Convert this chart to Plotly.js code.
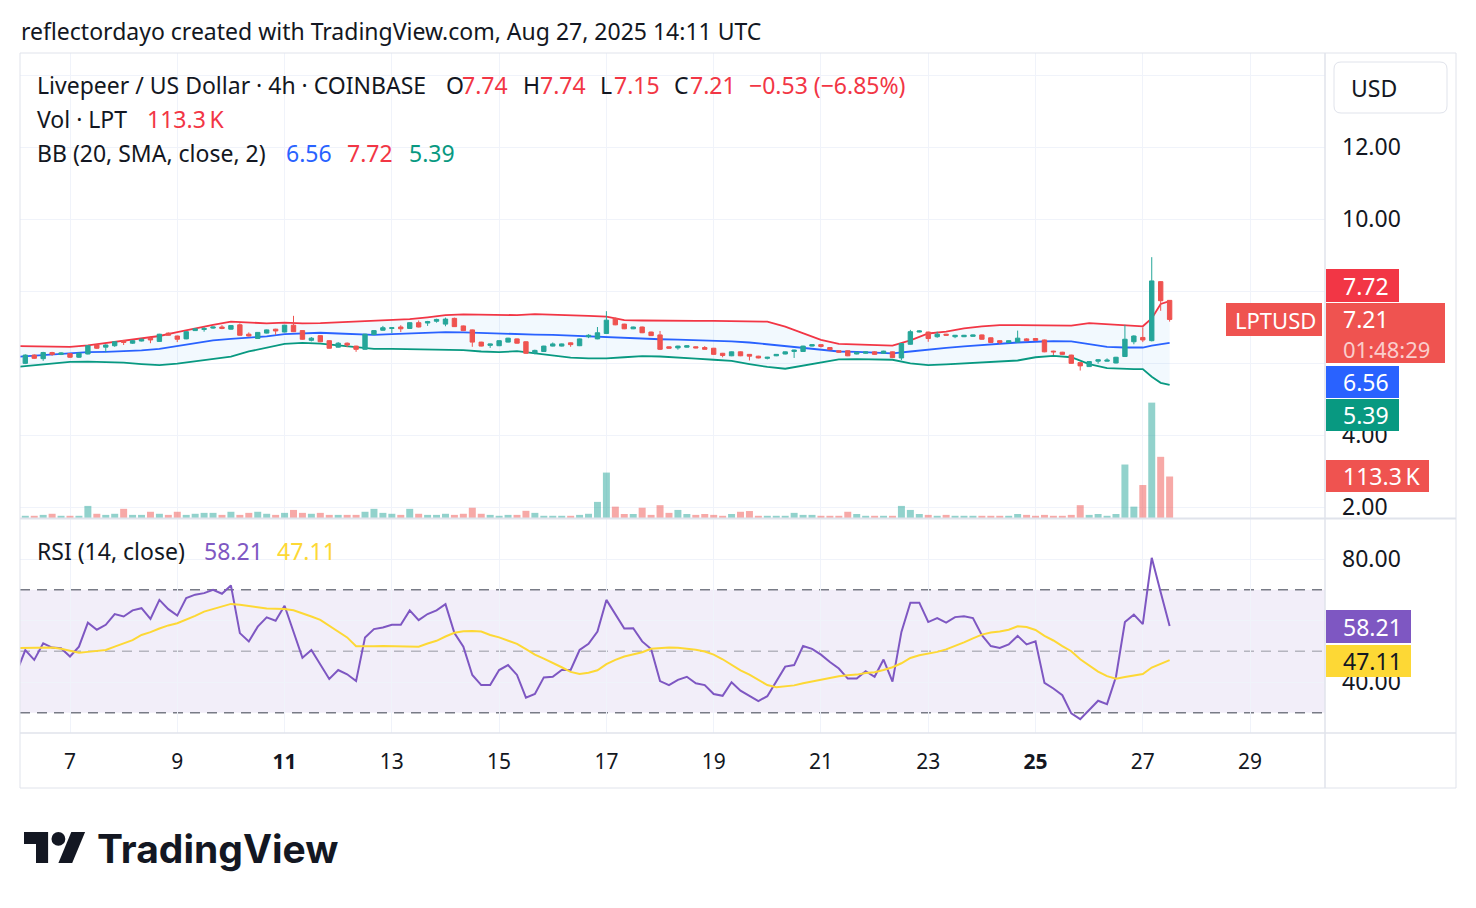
<!DOCTYPE html>
<html><head><meta charset="utf-8">
<script src="https://cdn.plot.ly/plotly-3.0.1.min.js"></script>
<style>html,body{margin:0;padding:0;background:#fff;}#chart{width:1476px;height:908px;}</style>
</head><body><div id="chart"></div>
<script>
// ---- data (4h candles, LPTUSD, Coinbase) starting 2025-08-06 00:00 UTC ----
const openP = [6.08,5.99,6.22,6.12,6.29,6.24,6.26,6.16,6.25,6.50, 6.44,6.48,6.62,6.55,6.61,6.69,6.60,6.83,6.75,6.67, 6.90,6.93,6.97,7.00,6.94,7.06,6.80,6.68,6.83,6.94, 6.86,7.05,6.90,6.63,6.76,6.62,6.44,6.55,6.47,6.38, 6.79,6.91,6.96,7.00,6.96,7.12,7.11,7.16,7.08,7.24, 7.03,6.92,6.58,6.49,6.48,6.58,6.67,6.59,6.28,6.32, 6.47,6.47,6.56,6.48,6.73,6.67,6.82,7.24,7.08,6.95, 7.00,6.86,6.78,6.45,6.42,6.44,6.45,6.43,6.41,6.27, 6.20,6.31,6.24,6.19,6.13,6.20,6.25,6.32,6.32,6.47, 6.51,6.43,6.34,6.34,6.25,6.27,6.31,6.27,6.31,6.14, 6.52,6.86,6.86,6.73,6.80,6.73,6.73,6.74,6.78,6.70, 6.62,6.57,6.58,6.67,6.68,6.64,6.33,6.30,6.22,6.01, 5.90,6.05,6.05,6.00,6.18,6.59,6.71,6.62,8.26,7.74];
const highP = [6.12,6.24,6.24,6.31,6.31,6.30,6.27,6.29,6.50,6.51, 6.52,6.60,6.64,6.64,6.68,6.75,6.81,6.85,6.76,6.88, 6.96,7.00,7.01,7.05,7.05,7.10,6.85,6.86,6.93,6.95, 7.06,7.31,6.91,6.72,6.77,6.63,6.58,6.57,6.48,6.81, 6.91,7.03,6.99,7.05,7.13,7.18,7.17,7.23,7.26,7.26, 7.04,6.93,6.59,6.54,6.63,6.70,6.68,6.60,6.37,6.48, 6.57,6.54,6.57,6.68,6.80,7.00,7.44,7.26,7.09,7.01, 7.01,6.87,6.89,6.46,6.48,6.49,6.46,6.47,6.42,6.28, 6.32,6.32,6.25,6.20,6.17,6.25,6.32,6.37,6.48,6.52, 6.52,6.44,6.35,6.35,6.31,6.32,6.33,6.34,6.32,6.54, 6.92,6.91,6.87,6.87,6.81,6.78,6.78,6.79,6.79,6.71, 6.63,6.63,6.90,6.69,6.69,6.65,6.34,6.31,6.23,6.02, 6.05,6.10,6.13,6.17,7.06,6.77,6.99,8.94,8.27,7.74];
const lowP = [5.97,5.97,6.11,6.06,6.20,6.22,6.14,6.14,6.24,6.39, 6.30,6.45,6.50,6.53,6.60,6.55,6.59,6.76,6.58,6.66, 6.89,6.87,6.95,6.94,6.93,6.76,6.74,6.67,6.82,6.78, 6.85,6.86,6.65,6.60,6.58,6.40,6.43,6.44,6.31,6.37, 6.78,6.90,6.83,6.86,6.95,6.99,7.03,7.12,7.02,7.00, 6.89,6.45,6.46,6.42,6.47,6.57,6.54,6.25,6.24,6.31, 6.46,6.46,6.45,6.47,6.69,6.66,6.81,7.05,6.94,6.94, 6.83,6.75,6.36,6.40,6.37,6.43,6.41,6.37,6.23,6.16, 6.19,6.19,6.07,6.13,6.10,6.19,6.24,6.14,6.31,6.46, 6.43,6.36,6.29,6.19,6.24,6.26,6.23,6.26,6.14,6.08, 6.51,6.85,6.59,6.70,6.76,6.69,6.72,6.73,6.65,6.56, 6.52,6.56,6.57,6.61,6.62,6.30,6.22,6.23,5.98,5.79, 5.89,5.98,6.04,5.99,6.17,6.52,6.58,6.60,7.45,7.15];
const closeP = [5.99,6.22,6.13,6.29,6.24,6.28,6.16,6.27,6.48,6.41, 6.50,6.59,6.57,6.62,6.66,6.64,6.80,6.77,6.66,6.87, 6.95,6.96,7.00,6.96,7.04,6.77,6.75,6.85,6.92,6.89, 7.05,6.87,6.66,6.69,6.59,6.41,6.55,6.50,6.38,6.80, 6.90,6.98,6.98,6.95,7.12,7.00,7.15,7.21,7.22,7.01, 6.90,6.58,6.47,6.53,6.62,6.69,6.55,6.27,6.35,6.47, 6.53,6.53,6.51,6.67,6.77,6.84,7.19,7.06,6.95,7.00, 6.84,6.76,6.38,6.41,6.47,6.48,6.42,6.38,6.24,6.21, 6.31,6.20,6.19,6.14,6.16,6.24,6.31,6.36,6.47,6.51, 6.46,6.37,6.30,6.20,6.30,6.31,6.24,6.33,6.15,6.54, 6.87,6.89,6.68,6.80,6.77,6.77,6.77,6.78,6.66,6.57, 6.57,6.62,6.69,6.62,6.63,6.31,6.31,6.24,5.99,5.92, 6.04,6.09,6.08,6.16,6.66,6.75,6.64,8.28,7.73,7.21];
const volumeK = [17,6,6,8.5,11.5,6,6,6,33,11.5, 8.5,11.5,25,8.5,8.5,17,11.5,8.5,17,8.5, 11.5,14,14,8.5,17,8.5,14,17,11.5,8.5, 14,22,14,11.5,14,8.5,8.5,8.5,8.5,17, 25,14,11.5,8.5,25,11.5,8.5,8.5,11.5,8.5, 11.5,28,11.5,8.5,6,8.5,8.5,19.6,14,6, 6,6,6,8.5,11.5,44,124,31,11,11, 28,8.5,35,14,22,11,8.5,11,8.5,6, 11,17,19,6,6,6,6,14,8.5,8.5, 6,6,6,17,11,6,6,6,6,33, 22,11,8.5,6,8.5,6,6,6,6,6, 6,6,11,8.5,6,8.5,6,6,8.5,35, 8.5,11,6,11,146,31,90,315,167,113.3];
// Bollinger Bands (20, SMA, close, 2) read at these candle indices
const bbIdx = [0,2,4,6,8,10,12,14,16,18,20,22,24,26,28,30,32,34,36,38,40,42,44,46,48,50,52,54,56,58,60,62,64,66,68,70,72,74,76,78,80,82,84,86,88,90,92,94,96,98,100,102,104,106,108,110,112,114,116,118,120,122,124,125,126,127,128,129];
const bbUpper = [6.47,6.46,6.45,6.45,6.49,6.55,6.61,6.67,6.75,6.86, 6.97,7.06,7.15,7.13,7.10,7.12,7.10,7.11,7.13,7.16, 7.18,7.20,7.22,7.27,7.33,7.35,7.34,7.34,7.33,7.36, 7.35,7.33,7.31,7.29,7.19,7.18,7.17,7.17,7.17,7.17, 7.17,7.16,7.15,7.01,6.82,6.64,6.53,6.52,6.50,6.48, 6.63,6.82,6.87,6.96,7.02,7.05,7.05,7.04,7.03,7.04, 7.11,7.08,7.04,7.03,7.02,7.24,7.64,7.72];
const bbBasis = [6.17,6.20,6.25,6.27,6.30,6.31,6.32,6.35,6.39,6.47, 6.55,6.63,6.67,6.70,6.74,6.80,6.82,6.84,6.82,6.80, 6.78,6.80,6.82,6.83,6.86,6.85,6.83,6.82,6.80,6.79, 6.78,6.76,6.73,6.70,6.68,6.67,6.66,6.65,6.64,6.62, 6.60,6.57,6.52,6.46,6.40,6.35,6.32,6.31,6.29,6.27, 6.32,6.38,6.42,6.46,6.50,6.54,6.57,6.59,6.61,6.60, 6.52,6.45,6.43,6.43,6.43,6.48,6.53,6.56];
const bbLower = [5.89,5.94,5.99,6.03,6.04,6.03,6.01,5.97,5.94,5.98, 6.05,6.10,6.18,6.32,6.43,6.53,6.56,6.54,6.49,6.43, 6.39,6.39,6.38,6.38,6.38,6.36,6.32,6.30,6.33,6.27, 6.19,6.15,6.13,6.13,6.16,6.19,6.18,6.16,6.12,6.09, 6.06,5.97,5.89,5.84,5.92,6.01,6.10,6.11,6.11,6.09, 5.99,5.94,5.96,5.99,6.01,6.03,6.07,6.16,6.20,6.16, 5.97,5.86,5.83,5.83,5.83,5.62,5.45,5.39];
// RSI (14, close) and its moving average, per candle
const rsi = [43.0,50.4,47.2,52.6,51.2,51.0,48.3,51.5,59.3,57.0, 58.6,62.1,61.3,63.3,64.0,60.5,66.7,63.7,61.6,67.3, 68.4,68.9,70.0,68.7,71.4,55.9,53.2,58.0,61.0,59.9, 64.8,56.5,47.9,50.4,45.8,41.0,43.9,42.5,40.3,54.5, 57.2,57.7,58.6,58.6,63.3,60.1,62.1,63.3,65.3,55.9, 51.5,42.3,39.0,39.0,43.9,45.5,42.3,34.9,36.1,41.5, 41.7,43.9,43.9,50.4,52.4,56.4,66.7,62.1,57.4,57.5, 53.2,50.7,40.3,39.0,40.7,41.7,39.6,39.0,36.1,35.5, 39.9,37.2,35.4,33.8,35.4,40.1,45.0,45.5,51.7,50.8, 48.9,46.5,44.4,41.1,41.1,43.5,41.7,47.3,40.1,56.3, 65.8,65.8,59.5,60.8,59.3,61.1,61.4,60.8,55.2,51.7, 51.1,52.2,55.0,52.2,53.2,39.7,37.9,35.7,29.8,27.9, 30.9,33.9,32.8,41.7,59.5,61.9,58.8,80.4,69.2,58.21];
const rsiMA = [51.0,51.0,51.0,51.1,51.2,50.8,50.2,49.5,49.8,50.1, 50.4,51.5,52.6,53.6,55.3,56.2,57.4,58.4,59.1,60.2, 61.5,62.9,63.7,64.5,65.4,65.1,64.7,64.2,63.9,63.8, 63.7,63.3,62.4,61.3,60.2,58.3,56.2,54.5,51.6,51.5, 51.6,51.7,51.6,51.5,51.5,51.5,52.5,53.4,54.8,56.0, 56.5,56.6,56.4,55.3,54.5,53.4,52.4,50.7,48.9,47.6, 46.3,44.8,43.3,42.6,43.0,43.8,45.8,47.2,48.3,49.0, 49.7,50.8,51.1,51.2,51.1,50.9,50.5,49.9,48.9,47.4, 45.5,43.8,42.4,40.7,39.0,38.3,38.5,38.9,39.6,40.2, 40.8,41.5,41.9,42.2,42.4,42.9,43.2,43.9,44.8,46.1, 47.8,48.7,49.2,49.8,50.6,51.7,52.9,54.2,55.4,56.1, 56.4,57.0,58.1,57.9,56.9,55.0,53.5,51.7,50.0,47.4, 45.4,43.4,41.9,41.1,41.6,42.2,42.6,44.7,45.8,47.11];
const tickDays = [7,9,11,13,15,17,19,21,23,25,27,29];
const tickLabels = ['7','9','<b>11</b>','13','15','17','19','21','23','<b>25</b>','27','29'];
const priceTicks = [2,4,6,8,10,12,14];
const priceTickText = ['2.00','4.00','','','10.00','12.00',''];
const rsiTicks = [40,60,80];
const rsiTickText = ['40.00','','80.00'];

// ---- styling / geometry ----
const FONT = "'Noto Sans', sans-serif";
const FS = 23;
const TXT = '#131722', GRID = '#f0f3fa', FRAME = '#e0e3eb';
const UP = '#26a69a', DN = '#ef5350';
const L0 = 20, T0 = 53, PW = 1305, PH = 680;
const PX = x => (x - L0) / PW;
const PY = y => (T0 + PH - y) / PH;

const startMs = Date.UTC(2025, 7, 6, 0, 0, 0), stepMs = 4 * 3600 * 1000, dayMs = 86400000;
const fmt = ms => new Date(ms).toISOString().slice(0, 19).replace('T', ' ');
const times = openP.map((_, i) => fmt(startMs + i * stepMs));
const bbTimes = bbIdx.map(i => times[i]);
const tickTimes = tickDays.map(d => fmt(Date.UTC(2025, 7, d)));
const pxPerDay = 53.64, t7 = Date.UTC(2025, 7, 7);
const xRange = [fmt(t7 - (70 - 20) / pxPerDay * dayMs), fmt(t7 + (1325 - 70) / pxPerDay * dayMs)];
const pRange = [12 - (518 - 147) / 36, 12 + (147 - 53) / 36];
const rRange = [40 - (733 - 682) / 3.075, 80 + (559 - 519) / 3.075];
const volMax = 113.3 * 465 / 41.5;
const volColors = closeP.map((c, i) => c >= openP[i] ? 'rgba(38,166,154,0.5)' : 'rgba(239,83,80,0.5)');

const traces = [
  {type:'scatter', mode:'lines', x:bbTimes, y:bbLower, xaxis:'x', yaxis:'y', line:{color:'#089981', width:1.8}, hoverinfo:'skip'},
  {type:'scatter', mode:'lines', x:bbTimes, y:bbUpper, xaxis:'x', yaxis:'y', line:{color:'#f23645', width:1.8}, fill:'tonexty', fillcolor:'rgba(33,150,243,0.06)', hoverinfo:'skip'},
  {type:'scatter', mode:'lines', x:bbTimes, y:bbBasis, xaxis:'x', yaxis:'y', line:{color:'#2962ff', width:1.8}, hoverinfo:'skip'},
  {type:'bar', x:times, y:volumeK, xaxis:'x', yaxis:'y3', marker:{color:volColors, line:{width:0}}, hoverinfo:'skip'},
  {type:'candlestick', x:times, open:openP, high:highP, low:lowP, close:closeP, xaxis:'x', yaxis:'y4',
   increasing:{line:{color:UP, width:1}, fillcolor:UP}, decreasing:{line:{color:DN, width:1}, fillcolor:DN}, whiskerwidth:0, hoverinfo:'skip'},
  {type:'scatter', mode:'lines', x:times, y:rsi, xaxis:'x', yaxis:'y2', line:{color:'#7e57c2', width:2}, hoverinfo:'skip'},
  {type:'scatter', mode:'lines', x:times, y:rsiMA, xaxis:'x', yaxis:'y2', line:{color:'#fdd835', width:2}, hoverinfo:'skip'}
];

function txt(x, y, text, color, size, extra) {
  return Object.assign({xref:'paper', yref:'paper', x:PX(x), y:PY(y), xanchor:'left', yanchor:'middle', text:text,
    showarrow:false, borderpad:0, font:{family:FONT, size:size, color:color}}, extra || {});
}
function rect(x0, y0, x1, y1, fill, extra) {
  return Object.assign({type:'rect', xref:'paper', yref:'paper', x0:PX(x0), x1:PX(x1), y0:PY(y1), y1:PY(y0),
    fillcolor:fill, line:{width:0}, layer:'above'}, extra || {});
}
function seg(x0, y0, x1, y1, color, w) {
  return {type:'line', xref:'paper', yref:'paper', x0:PX(x0), x1:PX(x1), y0:PY(y0), y1:PY(y1), line:{color:color, width:w || 1}, layer:'above'};
}
function poly(pts, fill) {
  return {type:'path', xref:'paper', yref:'paper', path:'M' + pts.map(p => PX(p[0]) + ',' + PY(p[1])).join(' L') + ' Z', fillcolor:fill, line:{width:0}, layer:'above'};
}
function rrect(x0, y0, x1, y1, r) {
  const p = (x, y) => PX(x) + ',' + PY(y);
  return 'M' + p(x0 + r, y0) + ' L' + p(x1 - r, y0) + ' Q' + p(x1, y0) + ' ' + p(x1, y0 + r) + ' L' + p(x1, y1 - r) + ' Q' + p(x1, y1) + ' ' + p(x1 - r, y1) +
    ' L' + p(x0 + r, y1) + ' Q' + p(x0, y1) + ' ' + p(x0, y1 - r) + ' L' + p(x0, y0 + r) + ' Q' + p(x0, y0) + ' ' + p(x0 + r, y0) + ' Z';
}

const shapes = [
  {type:'rect', xref:'paper', yref:'y2', x0:0, x1:1, y0:30, y1:70, fillcolor:'rgba(126,87,194,0.1)', line:{width:0}, layer:'below'},
  {type:'line', xref:'paper', yref:'y2', x0:0, x1:1, y0:70, y1:70, line:{color:'#787b86', width:1.5, dash:'10px,7px'}, layer:'below'},
  {type:'line', xref:'paper', yref:'y2', x0:0, x1:1, y0:50, y1:50, line:{color:'rgba(120,123,134,0.5)', width:1.5, dash:'10px,7px'}, layer:'below'},
  {type:'line', xref:'paper', yref:'y2', x0:0, x1:1, y0:30, y1:30, line:{color:'#787b86', width:1.5, dash:'10px,7px'}, layer:'below'},
  // frame
  seg(20, 53, 1456, 53, FRAME, 1), seg(20, 788, 1456, 788, FRAME, 1),
  seg(20, 53, 20, 788, FRAME, 1), seg(1456, 53, 1456, 788, FRAME, 1),
  seg(1325, 53, 1325, 788, FRAME, 1.5), seg(20, 518.5, 1456, 518.5, FRAME, 2), seg(20, 733, 1456, 733, FRAME, 1.5),
  // USD box
  {type:'path', xref:'paper', yref:'paper', path:rrect(1334, 62, 1447, 113, 7), fillcolor:'#ffffff', line:{color:FRAME, width:1}, layer:'above'},
  // price scale labels
  rect(1326, 269, 1399, 302, '#f23645'),
  rect(1326, 303, 1445, 363, '#ef5350'),
  rect(1226, 303, 1322, 336, '#ef5350'),
  rect(1326, 366, 1399, 398, '#2962ff'),
  rect(1326, 399, 1399, 431, '#089981'),
  rect(1326, 460, 1429, 492, '#ef5350'),
  rect(1326, 610, 1411, 643, '#7e57c2'),
  rect(1326, 645, 1411, 677, '#fdd835'),
  // TradingView logo mark
  poly([[24,832],[48.1,832],[48.1,863],[36,863],[36,844],[24,844]], TXT),
  {type:'circle', xref:'paper', yref:'paper', x0:PX(51.5), x1:PX(65.3), y0:PY(845.8), y1:PY(832), fillcolor:TXT, line:{width:0}, layer:'above'},
  poly([[58.4,863],[72.2,863],[85.1,832],[71.3,832]], TXT)
];

const red = '#f23645';
const annotations = [
  txt(20, 31, 'reflectordayo created with TradingView.com, Aug 27, 2025 14:11 UTC', TXT, FS),
  txt(36, 85, 'Livepeer / US Dollar · 4h · COINBASE', TXT, FS),
  txt(445, 85, 'O', TXT, FS), txt(461, 85, '7.74', red, FS),
  txt(522, 85, 'H', TXT, FS), txt(539, 85, '7.74', red, FS),
  txt(599, 85, 'L', TXT, FS), txt(613, 85, '7.15', red, FS),
  txt(673, 85, 'C', TXT, FS), txt(689, 85, '7.21', red, FS),
  txt(748, 85, '\u22120.53 (\u22126.85%)', red, FS),
  txt(36, 119, 'Vol · LPT', TXT, FS), txt(146, 119, '113.3\u2009K', red, FS),
  txt(36, 153, 'BB (20, SMA, close, 2)', TXT, FS),
  txt(285, 153, '6.56', '#2962ff', FS), txt(346, 153, '7.72', red, FS), txt(408, 153, '5.39', '#089981', FS),
  txt(36, 551, 'RSI (14, close)', TXT, FS),
  txt(203, 551, '58.21', '#7e57c2', FS), txt(276, 551, '47.11', '#fdd835', FS),
  txt(1350, 88, 'USD', TXT, FS),
  txt(1342, 286, '7.72', '#ffffff', FS),
  txt(1342, 319, '7.21', '#ffffff', FS),
  txt(1342, 349, '01:48:29', 'rgba(255,255,255,0.72)', 22),
  txt(1234, 320, 'LPTUSD', '#ffffff', 22),
  txt(1342, 382, '6.56', '#ffffff', FS),
  txt(1342, 415, '5.39', '#ffffff', FS),
  txt(1342, 476, '113.3\u2009K', '#ffffff', FS),
  txt(1342, 627, '58.21', '#ffffff', FS),
  txt(1342, 661, '47.11', TXT, FS),
  Object.assign(txt(96, 848, 'TradingView', TXT, 39), {font:{family:"Inter, sans-serif", size:39, color:TXT, weight:700}})
];

const layout = {
  width:1476, height:908, margin:{l:20, r:151, t:53, b:175, pad:0},
  paper_bgcolor:'#ffffff', plot_bgcolor:'#ffffff', showlegend:false, bargap:0.22,
  font:{family:FONT, color:TXT, size:FS},
  xaxis:{type:'date', range:xRange, domain:[0,1], anchor:'y2', tickvals:tickTimes, ticktext:tickLabels, tickfont:{size:21, color:TXT, family:FONT},
    ticks:'', showgrid:true, gridcolor:GRID, gridwidth:1, zeroline:false, showline:false, ticklabelstandoff:14, rangeslider:{visible:false}, fixedrange:true},
  yaxis:{domain:[PY(518), 1], range:pRange, side:'right', tickvals:priceTicks, ticktext:priceTickText, tickfont:{size:FS, color:TXT, family:FONT},
    ticks:'', showgrid:true, gridcolor:GRID, gridwidth:1, zeroline:false, showline:false, ticklabelstandoff:16, fixedrange:true},
  yaxis3:{overlaying:'y', range:[0, volMax], visible:false, fixedrange:true},
  yaxis4:{overlaying:'y', range:pRange, visible:false, fixedrange:true},
  yaxis2:{domain:[0, PY(519)], range:rRange, side:'right', anchor:'x', tickvals:rsiTicks, ticktext:rsiTickText, tickfont:{size:FS, color:TXT, family:FONT},
    ticks:'', showgrid:true, gridcolor:GRID, gridwidth:1, zeroline:false, showline:false, ticklabelstandoff:16, fixedrange:true},
  shapes:shapes, annotations:annotations
};
Plotly.newPlot('chart', traces, layout, {displayModeBar:false, staticPlot:true});
</script></body></html>
